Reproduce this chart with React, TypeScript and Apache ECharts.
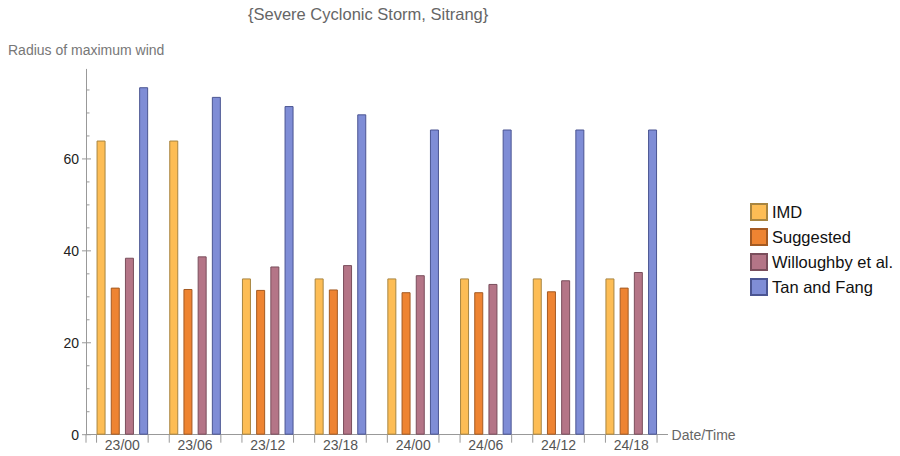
import React, { useEffect, useRef } from "react";
import * as echarts from "echarts";

const categories = ["23/00", "23/06", "23/12", "23/18", "24/00", "24/06", "24/12", "24/18"];
const imd = [64, 64, 34, 34, 34, 34, 34, 34];
const suggested = [32.0, 31.7, 31.5, 31.6, 31.0, 31.0, 31.2, 32.0];
const willoughby = [38.5, 38.8, 36.6, 36.9, 34.7, 32.8, 33.6, 35.4];
const tanFang = [75.6, 73.5, 71.5, 69.7, 66.4, 66.4, 66.4, 66.4];
const seriesNames = ["IMD", "Suggested", "Willoughby et al.", "Tan and Fang"];
const yTickValues = [0, 5, 10, 15, 20, 25, 30, 35, 40, 45, 50, 55, 60, 65, 70, 75];
const yMajorLabels = [0, 20, 40, 60];

const fills = ["#FDBD55", "#EE8432", "#B47587", "#7F8DD6"];
const borders = ["#A88540", "#A45A22", "#7A4E5C", "#4B5592"];
const BAR_W = 9;
const BAR_GAP = 5.2;
const FONT = "'Liberation Sans', Arial, sans-serif";
const AXIS_GRAY = "#999999";

export default function App() {
  const ref = useRef<HTMLDivElement>(null);
  useEffect(() => {
    if (!ref.current) return;
    const chart = echarts.init(ref.current, undefined, { renderer: "svg" });
    const groupHalf = (4 * BAR_W + 3 * BAR_GAP) / 2;
    const values = [imd, suggested, willoughby, tanFang];
    const barSeries = seriesNames.map((name, i) => ({
      name,
      type: "bar",
      data: values[i],
      barWidth: BAR_W,
      barGap: (BAR_GAP / BAR_W) * 100 + "%",
      itemStyle: { color: fills[i], borderColor: borders[i], borderWidth: 1 },
      emphasis: { disabled: true },
    }));
    chart.setOption({
      animation: false,
      textStyle: { fontFamily: FONT },
      title: [
        {
          text: "{Severe Cyclonic Storm, Sitrang}",
          left: 248,
          top: 5,
          padding: 0,
          textStyle: { fontSize: 16.5, fontWeight: "normal", color: "#666", fontFamily: FONT },
        },
        {
          text: "Radius of maximum wind",
          left: 8,
          top: 43,
          padding: 0,
          textStyle: { fontSize: 14, fontWeight: "normal", color: "#777", fontFamily: FONT },
        },
      ],
      legend: {
        data: seriesNames,
        orient: "vertical",
        left: 750,
        top: 203,
        padding: 0,
        itemWidth: 16,
        itemHeight: 16,
        itemGap: 7,
        icon: "rect",
        textStyle: { fontSize: 16.5, color: "#111", fontFamily: FONT },
      },
      grid: { left: 86, width: 581.6, top: 69.3, bottom: 21.3 },
      xAxis: {
        type: "category",
        data: categories,
        boundaryGap: true,
        name: "Date/Time",
        nameLocation: "end",
        nameGap: 4,
        nameTextStyle: { fontSize: 14, color: "#666", fontFamily: FONT, align: "left" },
        axisLine: { lineStyle: { color: AXIS_GRAY, width: 1 } },
        axisTick: { show: false },
        axisLabel: { fontSize: 14, color: "#555", margin: 3, fontFamily: FONT },
        splitLine: { show: false },
      },
      yAxis: {
        type: "value",
        min: 0,
        max: 79.5,
        interval: 20,
        axisLine: { show: true, lineStyle: { color: AXIS_GRAY, width: 1 } },
        axisTick: { show: false },
        minorTick: { show: false },
        splitLine: { show: false },
        axisLabel: {
          fontSize: 14,
          color: "#222",
          margin: 7,
          showMaxLabel: false,
          fontFamily: FONT,
          formatter: (v: number) => (yMajorLabels.includes(v) ? String(v) : ""),
        },
      },
      series: [
        ...barSeries,
        {
          name: "xticks",
          type: "custom",
          silent: true,
          clip: false,
          data: categories.map((_, i) => [i, 0]),
          renderItem: (params: any, api: any) => {
            const i = api.value(0);
            const p = api.coord([i, 0]);
            const band = api.size([1, 0])[0];
            const style = { stroke: AXIS_GRAY, lineWidth: 1 };
            const children: any[] = [
              { type: "line", shape: { x1: p[0] - groupHalf, y1: p[1], x2: p[0] - groupHalf, y2: p[1] + 8 }, style },
              { type: "line", shape: { x1: p[0] + groupHalf, y1: p[1], x2: p[0] + groupHalf, y2: p[1] + 8 }, style },
            ];
            if (params.dataIndex === 0) {
              const lx = p[0] - band / 2;
              children.push({ type: "line", shape: { x1: lx, y1: p[1], x2: lx, y2: p[1] + 8 }, style });
            }
            return { type: "group", children };
          },
        },
        {
          name: "yticks",
          type: "custom",
          silent: true,
          clip: false,
          data: yTickValues.map((v) => [0, v]),
          renderItem: (params: any, api: any) => {
            const v = api.value(1);
            const p = api.coord([0, v]);
            const band = api.size([1, 0])[0];
            const x = p[0] - band / 2;
            const major = v % 20 === 0;
            const x1 = major ? x - 4 : x;
            const x2 = major ? x + 5 : x + 3.5;
            return {
              type: "line",
              shape: { x1, y1: p[1], x2, y2: p[1] },
              style: { stroke: AXIS_GRAY, lineWidth: 1 },
            };
          },
        },
      ],
    });
    return () => chart.dispose();
  }, []);
  return (
    <div
      ref={ref}
      style={{ position: "fixed", left: 0, top: 0, width: 900, height: 456, background: "#fff" }}
    />
  );
}
